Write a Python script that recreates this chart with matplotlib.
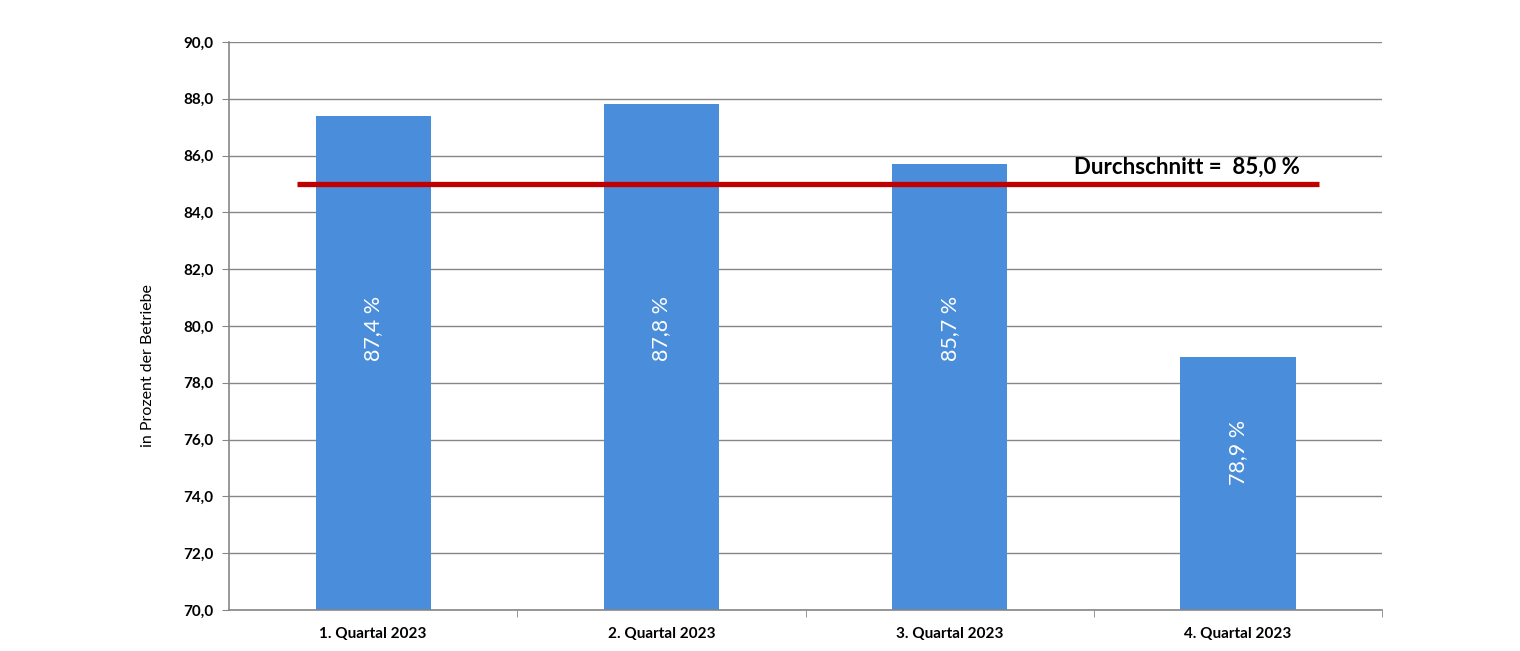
import matplotlib.pyplot as plt

quarters = ["1. Quartal 2023", "2. Quartal 2023", "3. Quartal 2023", "4. Quartal 2023"]
values = [87.4, 87.8, 85.7, 78.9]
value_labels = ["87,4 %", "87,8 %", "85,7 %", "78,9 %"]
average = 85.0
average_label = "Durchschnitt =  85,0 %"
yticks = [70, 72, 74, 76, 78, 80, 82, 84, 86, 88, 90]

plt.rcParams["font.family"] = ["Lato", "DejaVu Sans"]

fig = plt.figure(figsize=(15.2, 6.51), dpi=100)
ax = fig.add_axes([0.1507, 0.063, 0.7585, 0.8725])

x = list(range(len(quarters)))
ax.bar(x, [v - 70 for v in values], bottom=70, width=0.4, color="#4a8edb", zorder=2)

# average line
ax.plot([-0.264, 3.281], [average, average], color="#c00000", linewidth=3.8, zorder=3,
        solid_capstyle="butt")
ax.text(3.215, 85.58, average_label, ha="right", va="center", fontsize=16,
        fontweight="bold", color="black", zorder=4)

# labels inside bars
label_y = [79.9, 79.9, 79.9, 75.55]
for xi, ly, lab in zip(x, label_y, value_labels):
    ax.text(xi, ly, lab, rotation=90, ha="center", va="center", color="white",
            fontsize=15.5, zorder=4)

ax.set_xlim(-0.5, 3.5)
ax.set_ylim(70, 90)
ax.set_yticks(yticks)
ax.set_yticklabels([f"{t:.1f}".replace(".", ",") for t in yticks], fontsize=11,
                   fontweight="bold")
ax.set_xticks(x)
ax.set_xticklabels(quarters, fontsize=11, fontweight="bold")
ax.set_xticks([0.5, 1.5, 2.5, 3.5], minor=True)
ax.tick_params(axis="x", which="major", length=0, pad=12)
ax.tick_params(axis="x", which="minor", length=5, color="#868686")
ax.tick_params(axis="y", length=5, color="#868686", pad=6)
ax.yaxis.grid(True, color="#868686", linewidth=1, zorder=0)
ax.set_axisbelow(True)
for side in ["top", "right"]:
    ax.spines[side].set_visible(False)
for side in ["left", "bottom"]:
    ax.spines[side].set_color("#868686")
    ax.spines[side].set_linewidth(1.2)
ax.set_ylabel("in Prozent der Betriebe", fontsize=11.5)
ax.yaxis.set_label_coords(-0.064, 0.43)

fig.savefig("out.png", dpi=100)
